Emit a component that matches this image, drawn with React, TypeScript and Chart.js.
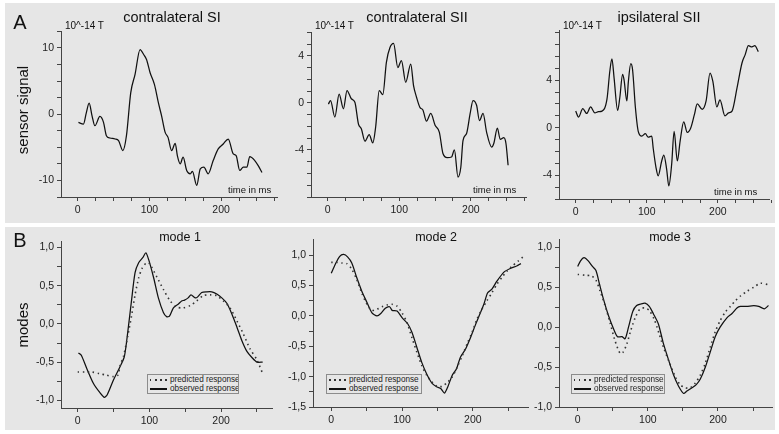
import React, { useEffect, useRef } from 'react';
import { Chart, registerables } from 'chart.js';
Chart.register(...registerables);

const FONT = '"Liberation Sans", Arial, Helvetica, sans-serif';
const AX = '#444';
const TXT = '#222';

// ---------- Panel A: sensor signals (10^-14 T) ----------
const siT = [1, 8, 12, 16, 20, 24, 31, 36, 40, 45, 52, 57, 63, 68, 74, 80, 87, 92, 96, 101, 107, 113, 117, 122, 126, 131, 136, 139, 143, 147, 152, 157, 160, 166, 171, 176, 182, 189, 196, 203, 210, 217, 221, 226, 231, 236, 240, 247, 252, 257];
const siV = [-1.25, -1.5, 0.2, 1.65, -0.25, -1.75, -0.35, -1.25, -3.25, -3.6, -3.75, -4, -5.5, -3.25, 3.25, 6, 9.75, 9, 8.25, 6.25, 4.5, 1.5, -0.25, -2.75, -3.5, -5.5, -4.4, -6.25, -7.5, -6.5, -8.5, -9, -8.65, -10.75, -8.25, -8, -9, -7, -5.25, -4.5, -3.75, -6, -6.25, -8.5, -8, -8, -6.4, -7, -7.8, -8.8];

const ciT = [1, 4, 10, 16, 22, 27, 33, 38, 43, 47, 52, 58, 63, 67, 72, 77, 82, 87, 92, 98, 103, 109, 116, 120, 124, 129, 133, 138, 144, 150, 156, 161, 167, 173, 177, 182, 186, 189, 194, 199, 203, 208, 212, 217, 222, 229, 232, 237, 241, 246, 249, 252];
const ciV = [-0.1, 0.2, -1.2, 0.75, -0.5, 1.05, 0.35, 0.05, -1.8, -2.2, -3.25, -2.7, -3.4, -2.05, 1.05, 0.7, 3.45, 4.7, 5.05, 3, 3.6, 1.75, 3.3, 1.45, 0.5, -0.4, -0.6, -1.55, -0.9, -1.9, -2.5, -4.3, -4.65, -4.6, -4.0, -6.3, -5.45, -3.2, -2.6, -0.9, 0.2, -0.2, -1.5, -0.9, -2.5, -3.75, -3.45, -2.15, -3.1, -2.95, -3.45, -5.3];

const ipT = [0, 4, 10, 15.5, 21, 27, 32, 37, 44, 48, 51, 54, 59, 62, 66, 68, 72, 74, 77.5, 80, 84, 88, 93, 98, 102, 107, 109, 113, 116, 121, 124, 128, 131, 135, 138.5, 143, 147, 152, 157, 162, 167, 171, 178, 183.5, 189, 193, 198.6, 203, 210, 215, 220, 227, 234, 238.5, 243, 248, 252, 257];
const ipV = [1.4, 0.9, 1.6, 1.2, 1.75, 1.25, 1.35, 1.4, 2.4, 4.75, 5.8, 4.2, 1.45, 2.5, 4.5, 4.05, 2.25, 3.8, 5.4, 4.9, 1.7, -0.3, -0.7, -0.5, -0.8, -0.7, -1.7, -3.35, -4.05, -2.8, -2.3, -3.5, -4.9, -3.1, -0.3, -2.8, -1.1, 0.5, -0.4, 0, 1.1, 2.0, 1.55, 2.25, 4.6, 3.9, 1.75, 2.35, 1.0, 1.25, 1.4, 3.35, 5.45, 6.15, 6.9, 6.8, 6.9, 6.4];

// ---------- Panel B: modes ----------
const m1ObsT = [1, 5, 12.5, 22, 31, 37, 41, 50, 59, 65, 69, 75, 80, 85, 91, 95, 99, 106, 112.5, 119.5, 124, 128, 133.5, 140.5, 145, 149, 154, 158, 164, 167, 173, 180, 187, 194, 201, 208, 215, 222, 229, 236, 243, 250, 258];
const m1ObsV = [-0.38, -0.41, -0.58, -0.78, -0.9, -0.96, -0.93, -0.73, -0.56, -0.43, -0.17, 0.3, 0.67, 0.8, 0.87, 0.93, 0.84, 0.6, 0.34, 0.15, 0.095, 0.1, 0.21, 0.26, 0.3, 0.31, 0.34, 0.38, 0.34, 0.35, 0.41, 0.42, 0.42, 0.39, 0.34, 0.27, 0.13, -0.04, -0.22, -0.36, -0.44, -0.5, -0.5];
const m1PredT = [0, 10, 20, 30, 40, 50, 56, 59, 64, 70, 75, 80, 85, 90, 96, 100, 110, 119.5, 129, 138, 147, 157, 166, 175, 185, 194, 203, 212.5, 222, 231, 240, 250, 258];
const m1PredV = [-0.63, -0.63, -0.63, -0.65, -0.67, -0.69, -0.67, -0.55, -0.42, -0.15, 0.1, 0.38, 0.6, 0.73, 0.8, 0.79, 0.62, 0.45, 0.3, 0.22, 0.21, 0.24, 0.3, 0.37, 0.38, 0.37, 0.3, 0.21, 0.04, -0.13, -0.32, -0.47, -0.65];

const m2ObsT = [0, 5.7, 12, 17.5, 23, 29, 36, 43, 50.5, 57.5, 64.6, 70, 76.4, 82.5, 86, 93, 100, 108, 114, 121, 128, 135, 142.5, 149.5, 155, 160, 164.6, 170.8, 177, 182.5, 189.6, 196.7, 204, 210, 215.6, 221, 227, 234, 244, 253, 262, 268];
const m2ObsV = [0.7, 0.85, 0.98, 1.01, 0.97, 0.87, 0.63, 0.41, 0.22, 0.05, 0, 0.04, 0.125, 0.15, 0.09, 0.08, -0.03, -0.13, -0.27, -0.52, -0.77, -0.96, -1.11, -1.17, -1.2, -1.27, -1.17, -0.98, -0.87, -0.68, -0.55, -0.36, -0.14, 0.03, 0.19, 0.38, 0.44, 0.57, 0.72, 0.78, 0.82, 0.86];
const m2PredT = [0, 8, 15, 22, 29, 36, 43, 50.5, 57.5, 64.6, 71.7, 78.8, 86, 93, 100, 107, 114, 121, 128, 135, 142.5, 149.5, 156.6, 163.7, 170.8, 178, 185, 192, 199, 206, 213, 220, 227, 234, 241, 248.6, 255.7, 264, 271];
const m2PredV = [0.88, 0.88, 0.87, 0.86, 0.77, 0.6, 0.38, 0.19, 0.09, 0.11, 0.15, 0.18, 0.19, 0.16, 0.05, -0.11, -0.36, -0.6, -0.82, -0.98, -1.09, -1.16, -1.16, -1.1, -1.01, -0.84, -0.66, -0.46, -0.27, -0.05, 0.11, 0.25, 0.38, 0.52, 0.63, 0.74, 0.82, 0.9, 0.97];

const m3ObsT = [0, 4, 9, 15, 21, 26, 31, 36.7, 43.8, 51, 56.7, 63, 67.6, 72.4, 78.6, 84, 90, 96, 102, 108, 115, 122, 129.5, 136.7, 143.8, 151, 155.7, 162.9, 169, 174.8, 182, 189, 196, 203, 213, 220, 227, 232, 241, 251, 258, 266, 272];
const m3ObsV = [0.76, 0.83, 0.87, 0.83, 0.76, 0.71, 0.54, 0.35, 0.145, -0.02, -0.12, -0.12, -0.145, 0, 0.2, 0.27, 0.29, 0.3, 0.26, 0.165, 0.04, -0.2, -0.41, -0.6, -0.74, -0.83, -0.8, -0.76, -0.72, -0.65, -0.5, -0.31, -0.12, 0, 0.12, 0.17, 0.24, 0.26, 0.26, 0.27, 0.26, 0.23, 0.27];
const m3PredT = [0, 10.5, 20, 26, 32, 39, 46, 53, 60.5, 65, 70, 75.7, 82, 89, 96, 102, 109, 116.7, 123, 131, 139, 146, 153, 160.5, 167.6, 174.8, 182, 189, 196, 203, 210.5, 217.6, 224.8, 232, 241.4, 251, 260.5, 272];
const m3PredV = [0.66, 0.65, 0.64, 0.59, 0.45, 0.27, 0.06, -0.165, -0.33, -0.31, -0.21, -0.04, 0.12, 0.23, 0.24, 0.21, 0.1, -0.1, -0.27, -0.45, -0.62, -0.72, -0.76, -0.76, -0.7, -0.6, -0.45, -0.25, -0.06, 0.08, 0.19, 0.26, 0.33, 0.39, 0.45, 0.5, 0.55, 0.53];

// ---------- tick definitions ----------
const xTicksA = [0, 25, 50, 75, 100, 125, 150, 175, 200, 225, 250, 275];
const xTicksB = [0, 50, 100, 150, 200, 250];
const xLabels = [0, 100, 200];
const yTicksA1 = [-12.5, -10, -7.5, -5, -2.5, 0, 2.5, 5, 7.5, 10, 12.5];
const yLabelsA1 = [-10, 0, 10];
const yTicksA2 = [-8, -7, -6, -5, -4, -3, -2, -1, 0, 1, 2, 3, 4, 5, 6];
const yTicksA3 = [-6, -5, -4, -3, -2, -1, 0, 1, 2, 3, 4, 5, 6, 7, 8];
const yLabelsA23 = [-4, 0, 4];
const yTicksB1 = [-1, -0.75, -0.5, -0.25, 0, 0.25, 0.5, 0.75, 1];
const yTicksB2 = [-1.5, -1.25, -1, -0.75, -0.5, -0.25, 0, 0.25, 0.5, 0.75, 1];
const yLabelsB13 = [-1, -0.5, 0, 0.5, 1];
const yLabelsB2 = [-1.5, -1, -0.5, 0, 0.5, 1];

type Area = { l: number; t: number; r: number; b: number };
type Series = { t: number[]; v: number[]; dotted?: boolean };
type PlotProps = {
  area: Area; xMin: number; xMax: number; yMin: number; yMax: number;
  xTicks: number[]; yTicks: number[]; yLabels: number[]; comma?: boolean;
  series: Series[]; smooth: boolean;
};

const ML = 44, MT = 8, MR = 8, MB = 22;

const has = (arr: number[], v: number) => arr.some((a) => Math.abs(a - v) < 1e-9);

function Plot(p: PlotProps) {
  const ref = useRef<HTMLCanvasElement>(null);
  const w = p.area.r - p.area.l + ML + MR;
  const h = p.area.b - p.area.t + MT + MB;
  useEffect(() => {
    const grid = { display: true, drawOnChartArea: false, drawTicks: true, tickLength: 4, color: AX, lineWidth: 1 };
    const chart = new Chart(ref.current!, {
      type: 'line',
      data: {
        datasets: p.series.map((s) => ({
          data: s.t.map((x, i) => ({ x, y: s.v[i] })),
          borderColor: s.dotted ? '#333' : '#111',
          borderWidth: s.dotted ? 1.6 : 1.25,
          borderDash: s.dotted ? [1.5, 3.5] : [],
          pointRadius: 0,
          fill: false,
          tension: p.smooth ? 0.4 : 0.25,
          cubicInterpolationMode: p.smooth ? 'monotone' : 'default',
        })),
      },
      options: {
        responsive: false,
        maintainAspectRatio: false,
        animation: false,
        layout: { padding: { top: MT, right: MR, left: 0, bottom: 0 } },
        plugins: { legend: { display: false }, tooltip: { enabled: false }, title: { display: false } },
        scales: {
          x: {
            type: 'linear', min: p.xMin, max: p.xMax,
            afterFit: (s: any) => { s.height = MB; },
            afterBuildTicks: (s: any) => { s.ticks = p.xTicks.map((v) => ({ value: v })); },
            ticks: {
              autoSkip: false, maxRotation: 0, padding: 3, color: TXT,
              font: { family: FONT, size: 10.5 },
              callback: (v: any) => (has(xLabels, Number(v)) ? String(v) : ''),
            },
            grid, border: { display: true, color: AX, width: 1 },
          },
          y: {
            type: 'linear', min: p.yMin, max: p.yMax,
            afterFit: (s: any) => { s.width = ML; },
            afterBuildTicks: (s: any) => { s.ticks = p.yTicks.map((v) => ({ value: v })); },
            ticks: {
              autoSkip: false, padding: 3, color: TXT,
              font: { family: FONT, size: 10.5 },
              callback: (v: any) => {
                const n = Number(v);
                if (!has(p.yLabels, n)) return '';
                return p.comma ? n.toFixed(1).replace('.', ',') : String(n);
              },
            },
            grid, border: { display: true, color: AX, width: 1 },
          },
        },
      },
    } as any);
    return () => chart.destroy();
  }, []);
  return (
    <canvas ref={ref} width={w} height={h}
      style={{ position: 'absolute', left: p.area.l - ML, top: p.area.t - MT, width: w, height: h }} />
  );
}

function Txt(props: { x: number; y: number; size: number; children: React.ReactNode; align?: 'c' | 'l'; rot?: boolean }) {
  const tr = props.rot ? 'translate(-50%,-50%) rotate(-90deg)' : props.align === 'l' ? 'translate(0,-50%)' : 'translate(-50%,-50%)';
  return (
    <div style={{ position: 'absolute', left: props.x, top: props.y, fontSize: props.size, color: '#111', whiteSpace: 'nowrap', transform: tr, lineHeight: 1, fontFamily: FONT }}>
      {props.children}
    </div>
  );
}

function Legend(props: { l: number; t: number; w: number }) {
  const row = (dotted: boolean, label: string) => (
    <div style={{ display: 'flex', alignItems: 'center', height: 9, whiteSpace: 'nowrap' }}>
      <div style={{
        flex: '0 0 17px', width: 17, height: dotted ? 1.5 : 1.2, marginLeft: 2, marginRight: 3,
        background: dotted ? 'repeating-linear-gradient(to right, #333 0 1.5px, transparent 1.5px 5px)' : '#111',
      }} />
      <span style={{ fontSize: 8.2, color: '#222', lineHeight: 1, whiteSpace: 'nowrap' }}>{label}</span>
    </div>
  );
  return (
    <div style={{ position: 'absolute', left: props.l, top: props.t, width: props.w, height: 20, border: '1px solid #8c8c8c', background: '#e6e6e6', boxSizing: 'border-box', paddingTop: 0.5, fontFamily: FONT, overflow: 'hidden' }}>
      {row(true, 'predicted response')}
      {row(false, 'observed response')}
    </div>
  );
}

export default function App() {
  return (
    <div style={{ position: 'fixed', left: 0, top: 0, width: 779, height: 434, background: '#fff', overflow: 'hidden', fontFamily: FONT }}>
      <div style={{ position: 'absolute', left: 5, top: 3, width: 770, height: 220, background: '#e6e6e6' }} />
      <div style={{ position: 'absolute', left: 5, top: 227, width: 770, height: 203, background: '#e6e6e6' }} />

      <Plot area={{ l: 61, t: 30, r: 277, b: 197 }} xMin={-23.3} xMax={278} yMin={-12.5} yMax={12.5}
        xTicks={xTicksA} yTicks={yTicksA1} yLabels={yLabelsA1} series={[{ t: siT, v: siV }]} smooth />
      <Plot area={{ l: 311, t: 31, r: 526, b: 197 }} xMin={-23.3} xMax={277} yMin={-8} yMax={6}
        xTicks={xTicksA} yTicks={yTicksA2} yLabels={yLabelsA23} series={[{ t: ciT, v: ciV }]} smooth />
      <Plot area={{ l: 559, t: 29, r: 769, b: 199 }} xMin={-23.5} xMax={272} yMin={-6} yMax={8.2}
        xTicks={xTicksA} yTicks={yTicksA3} yLabels={yLabelsA23} series={[{ t: ipT, v: ipV }]} smooth />

      <Plot area={{ l: 61, t: 240, r: 272, b: 408 }} xMin={-23.3} xMax={271} yMin={-1.1} yMax={1.08}
        xTicks={xTicksB} yTicks={yTicksB1} yLabels={yLabelsB13} comma
        series={[{ t: m1PredT, v: m1PredV, dotted: true }, { t: m1ObsT, v: m1ObsV }]} smooth={false} />
      <Plot area={{ l: 313, t: 238, r: 528, b: 407 }} xMin={-25.8} xMax={278} yMin={-1.5} yMax={1.26}
        xTicks={xTicksB} yTicks={yTicksB2} yLabels={yLabelsB2} comma
        series={[{ t: m2PredT, v: m2PredV, dotted: true }, { t: m2ObsT, v: m2ObsV }]} smooth={false} />
      <Plot area={{ l: 559, t: 238, r: 772, b: 407 }} xMin={-26.7} xMax={277} yMin={-1.0} yMax={1.1}
        xTicks={xTicksB} yTicks={yTicksB1} yLabels={yLabelsB13} comma
        series={[{ t: m3PredT, v: m3PredV, dotted: true }, { t: m3ObsT, v: m3ObsV }]} smooth={false} />

      <Txt x={20} y={22} size={20}>A</Txt>
      <Txt x={20} y={240} size={20}>B</Txt>
      <Txt x={22} y={110} size={15} rot>sensor signal</Txt>
      <Txt x={22} y={325} size={15} rot>modes</Txt>

      <Txt x={172} y={17} size={14.5}>contralateral SI</Txt>
      <Txt x={417} y={17} size={14.5}>contralateral SII</Txt>
      <Txt x={659} y={17} size={14.5}>ipsilateral SII</Txt>

      <Txt x={65} y={26} size={10} align="l">10^-14 T</Txt>
      <Txt x={315} y={26} size={10} align="l">10^-14 T</Txt>
      <Txt x={563} y={26} size={10} align="l">10^-14 T</Txt>

      <Txt x={228} y={190} size={9.5} align="l">time in ms</Txt>
      <Txt x={473} y={190} size={9.5} align="l">time in ms</Txt>
      <Txt x={714} y={192} size={9.5} align="l">time in ms</Txt>

      <Txt x={180} y={237} size={12.5}>mode 1</Txt>
      <Txt x={436} y={237} size={12.5}>mode 2</Txt>
      <Txt x={670} y={237} size={12.5}>mode 3</Txt>

      <Legend l={147} t={374} w={92} />
      <Legend l={326} t={374} w={96} />
      <Legend l={571} t={374} w={94} />
    </div>
  );
}
